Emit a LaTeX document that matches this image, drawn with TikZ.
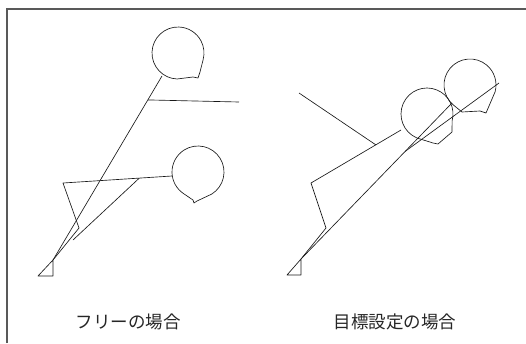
\documentclass[tikz,border=0pt]{standalone}
\usepackage{fontspec}
\newfontfamily\jpfont{Noto Sans CJK JP}
\usetikzlibrary{calc}

\begin{document}
\begin{tikzpicture}[
  x=1pt, y=-1pt,
  limb/.style={draw=black!90, line width=0.65pt, line join=round},
  head/.style={draw=black!90, line width=0.65pt, line join=round},
  frame/.style={draw=black!65, line width=1.3pt},
  caption/.style={font=\jpfont\fontsize{17.5}{19}\selectfont, text=black!85},
]
\useasboundingbox (0,0) rectangle (526,343);

%% ── Frame (top and left edge) ─────────────────────────────────────
\draw[frame] (7,343) -- (7,9) -- (526,9);

%% ── Joints, left figure ──────────────────────────────────────────
\coordinate (neckA)  at (162,76);
\coordinate (handA)  at (239,102);
\coordinate (neckB)  at (172,176);
\coordinate (hipB)   at (63,183);
\coordinate (kneeB)  at (79,228);
\coordinate (handB)  at (73,240);
\coordinate (ankleL) at (53,260);
\coordinate (heelL)  at (53,276);
\coordinate (toeL)   at (38,276);
\coordinate (shoulderA) at ($(neckA)!0.13!(ankleL)$);
\coordinate (shoulderB) at ($(neckB)!0.30!(hipB)$);

%% ── Joints, right figure ─────────────────────────────────────────
\coordinate (neckC)  at (401,130);
\coordinate (hipC)   at (311,183);
\coordinate (kneeC)  at (326,228);
\coordinate (handC)  at (299,93);
\coordinate (neckD)  at (452,103);
\coordinate (handD)  at (499,83);
\coordinate (ankleR) at (301,259);
\coordinate (heelR)  at (301,275);
\coordinate (toeR)   at (287,275);
\coordinate (shoulderC) at ($(neckC)!0.28!(hipC)$);
\coordinate (shoulderD) at ($(neckD)!0.31!(ankleR)$);

%% ── Heads ────────────────────────────────────────────────────────
\begin{scope}[shift={(178,53)}]
  \draw[head] (92:26) arc[start angle=92, end angle=375, radius=26]
    -- (22,19) -- (20,25) -- (15,24) -- cycle;
\end{scope}
\begin{scope}[shift={(198,172)}]
  \draw[head] (58:26) arc[start angle=58, end angle=-237, radius=26]
    -- (-5,28) -- (-4,31) -- (-1,29) -- cycle;
\end{scope}
\begin{scope}[shift={(427,114)}]
  \draw[head] (113:26) arc[start angle=113, end angle=375, radius=26]
    -- (25,18) -- (11,30) -- (6,29) -- cycle;
\end{scope}
\begin{scope}[shift={(470,85)}]
  \draw[head] (130:26) arc[start angle=130, end angle=375, radius=26]
    -- (16,28) -- (10,26) -- (-8,27) -- cycle;
\end{scope}

%% ── Bodies, left figure ──────────────────────────────────────────
\draw[limb] (neckA) -- (ankleL);
\draw[limb] (shoulderA) -- (handA);
\draw[limb] (neckB) -- (hipB) -- (kneeB) -- (ankleL);
\draw[limb] (shoulderB) -- (handB);
\draw[limb] (ankleL) -- (heelL) -- (toeL) -- cycle;

%% ── Bodies, right figure ─────────────────────────────────────────
\draw[limb] (neckC) -- (hipC) -- (kneeC) -- (ankleR);
\draw[limb] (shoulderC) -- (handC);
\draw[limb] (neckD) -- (ankleR);
\draw[limb] (shoulderD) -- (handD);
\draw[limb] (ankleR) -- (heelR) -- (toeR) -- cycle;

%% ── Captions ─────────────────────────────────────────────────────
\node[caption] (freeLbl) at (128,322) {フリーの場合};
\node[caption] (goalLbl) at (395,322) {目標設定の場合};

\end{tikzpicture}
\end{document}
